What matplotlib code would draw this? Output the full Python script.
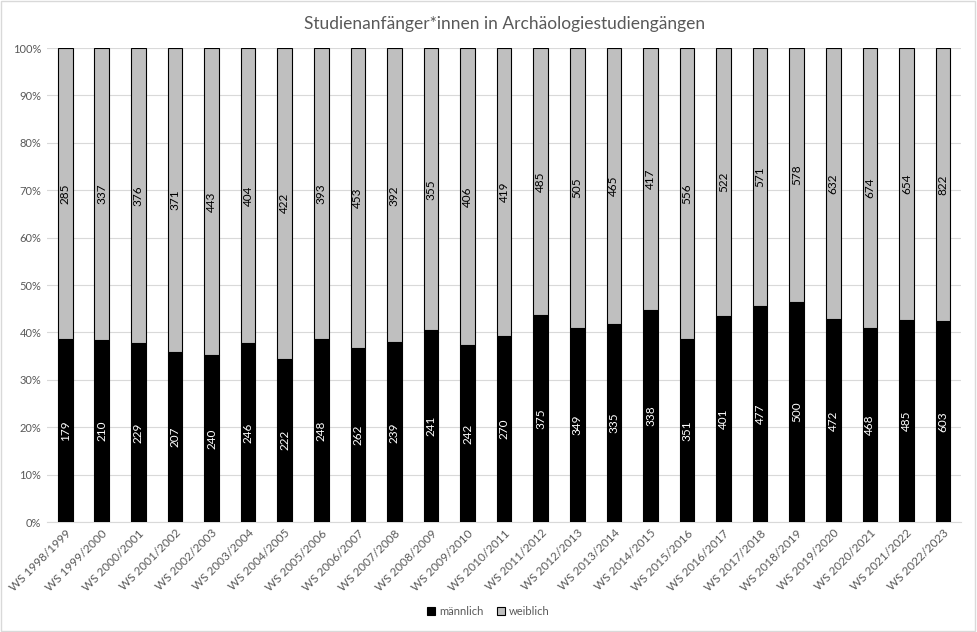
import numpy as np
import matplotlib.pyplot as plt
from matplotlib.patches import Rectangle

plt.rcParams['font.family'] = ['Lato', 'DejaVu Sans']

semester = ["WS 1998/1999", "WS 1999/2000", "WS 2000/2001", "WS 2001/2002", "WS 2002/2003",
            "WS 2003/2004", "WS 2004/2005", "WS 2005/2006", "WS 2006/2007", "WS 2007/2008",
            "WS 2008/2009", "WS 2009/2010", "WS 2010/2011", "WS 2011/2012", "WS 2012/2013",
            "WS 2013/2014", "WS 2014/2015", "WS 2015/2016", "WS 2016/2017", "WS 2017/2018",
            "WS 2018/2019", "WS 2019/2020", "WS 2020/2021", "WS 2021/2022", "WS 2022/2023"]
maennlich = [179, 210, 229, 207, 240, 246, 222, 248, 262, 239, 241, 242, 270,
             375, 349, 335, 338, 351, 401, 477, 500, 472, 468, 485, 603]
weiblich = [285, 337, 376, 371, 443, 404, 422, 393, 453, 392, 355, 406, 419,
            485, 505, 465, 417, 556, 522, 571, 578, 632, 674, 654, 822]

m = np.array(maennlich, dtype=float)
w = np.array(weiblich, dtype=float)
total = m + w
m_pct = m / total * 100
w_pct = w / total * 100
x = np.arange(len(semester))

fig = plt.figure(figsize=(9.77, 6.32), dpi=100)
ax = fig.add_axes([0.048, 0.174, 0.936, 0.75])

grey_txt = "#595959"
bw = 0.40
ax.bar(x, m_pct, width=bw, color="black", edgecolor="black", linewidth=0.8,
       label="männlich", zorder=3)
ax.bar(x, w_pct, width=bw, bottom=m_pct, color="#bfbfbf", edgecolor="black",
       linewidth=0.8, label="weiblich", zorder=3)

for i in range(len(x)):
    ax.text(x[i], m_pct[i] / 2, str(maennlich[i]), rotation=90, ha="center",
            va="center", color="white", fontsize=8.5, zorder=4)
    ax.text(x[i], m_pct[i] + w_pct[i] / 2, str(weiblich[i]), rotation=90,
            ha="center", va="center", color="black", fontsize=8.5, zorder=4)

ax.set_xlim(-0.5, len(x) - 0.5)
ax.set_ylim(0, 100)
ax.set_yticks(np.arange(0, 101, 10))
ax.set_yticklabels([f"{v}%" for v in range(0, 101, 10)], color=grey_txt, fontsize=8)
ax.set_xticks(x)
ax.set_xticklabels(semester, rotation=45, ha="right", rotation_mode="anchor",
                   color=grey_txt, fontsize=8.5)
ax.tick_params(axis="both", length=0, pad=4)
ax.grid(axis="y", color="#d9d9d9", linewidth=0.8, zorder=0)
for s in ["top", "right", "left"]:
    ax.spines[s].set_visible(False)
ax.spines["bottom"].set_color("#d9d9d9")

ax.set_title("Studienanfänger*innen in Archäologiestudiengängen", fontsize=12.5,
             color=grey_txt, pad=14)

leg = fig.legend(loc="center", bbox_to_anchor=(0.5, 0.033), ncol=2, frameon=False,
                 fontsize=8, handlelength=0.7, handleheight=0.7, handletextpad=0.4,
                 columnspacing=1.2)
for t in leg.get_texts():
    t.set_color(grey_txt)

fig.patches.append(Rectangle((0.001, 0.002), 0.997, 0.996, transform=fig.transFigure,
                             fill=False, edgecolor="#d9d9d9", linewidth=1))

fig.savefig("out.png", dpi=100)
